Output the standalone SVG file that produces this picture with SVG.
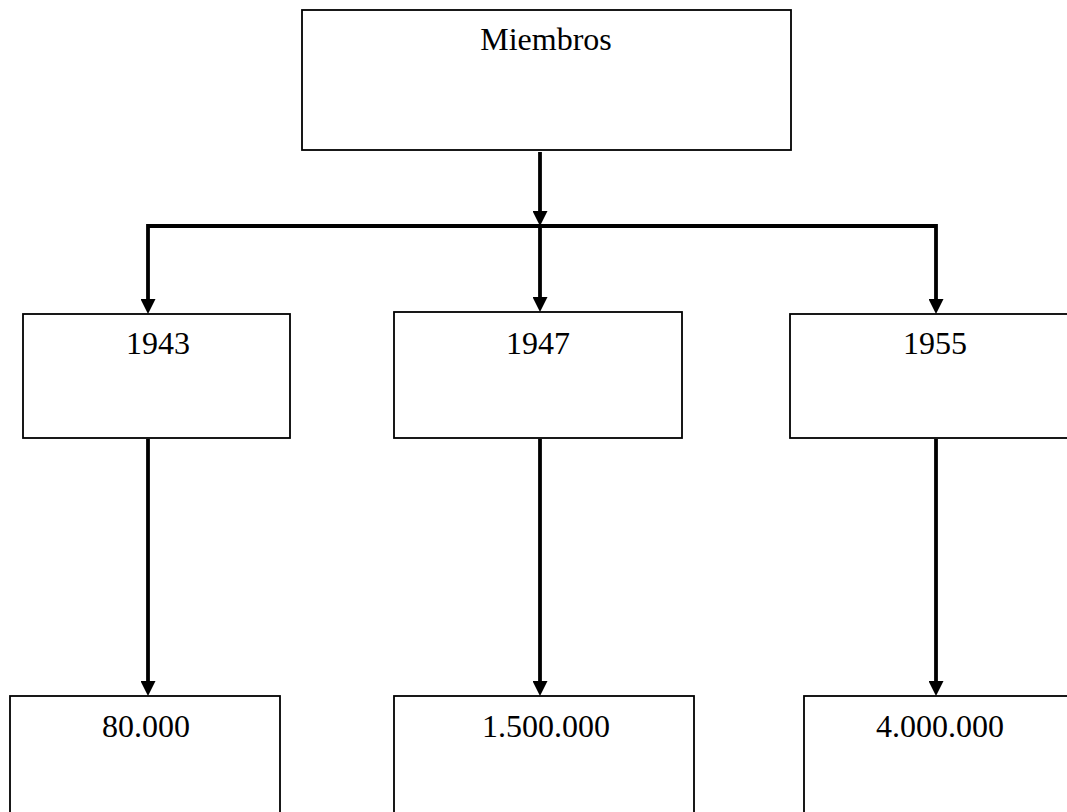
<svg xmlns="http://www.w3.org/2000/svg" width="1067" height="812" viewBox="0 0 1067 812">
<style>
.box{fill:#fff;stroke:#000;stroke-width:1.8}
.lbl{font-family:"Liberation Serif","Times New Roman",serif;font-size:32px;fill:#000;text-anchor:middle}
.con{fill:none;stroke:#000;stroke-width:3.8;stroke-linejoin:miter}
</style>
<defs>
<marker id="arr" markerUnits="userSpaceOnUse" markerWidth="15" markerHeight="15" viewBox="0 0 15 15" refX="10" refY="7.5" orient="auto">
<path d="M0,0 L15,7.5 L0,15 Z" fill="#000"/>
</marker>
</defs>
<rect width="1067" height="812" fill="#fff"/>
<g id="connectors">
<path class="con" d="M540,152 V221" marker-end="url(#arr)"/>
<path class="con" d="M540,226 V307" marker-end="url(#arr)"/>
<path class="con" d="M540,226 H148 V309" marker-end="url(#arr)"/>
<path class="con" d="M540,226 H936 V309" marker-end="url(#arr)"/>
<path class="con" d="M148,439 V691" marker-end="url(#arr)"/>
<path class="con" d="M540,439 V691" marker-end="url(#arr)"/>
<path class="con" d="M936,439 V691" marker-end="url(#arr)"/>
</g>
<g id="node-miembros">
<rect class="box" x="302" y="10" width="489" height="140"/>
<text class="lbl" x="546" y="50">Miembros</text>
</g>
<g id="node-1943">
<rect class="box" x="23" y="314" width="267" height="124"/>
<text class="lbl" x="158" y="354">1943</text>
</g>
<g id="node-1947">
<rect class="box" x="394" y="312" width="288" height="126"/>
<text class="lbl" x="538" y="354">1947</text>
</g>
<g id="node-1955">
<rect class="box" x="790" y="314" width="290" height="124"/>
<text class="lbl" x="935" y="354">1955</text>
</g>
<g id="node-80000">
<rect class="box" x="10" y="696" width="270" height="140"/>
<text class="lbl" x="146" y="737">80.000</text>
</g>
<g id="node-1500000">
<rect class="box" x="394" y="696" width="300" height="140"/>
<text class="lbl" x="546" y="737">1.500.000</text>
</g>
<g id="node-4000000">
<rect class="box" x="804" y="696" width="280" height="140"/>
<text class="lbl" x="940" y="737">4.000.000</text>
</g>
</svg>
